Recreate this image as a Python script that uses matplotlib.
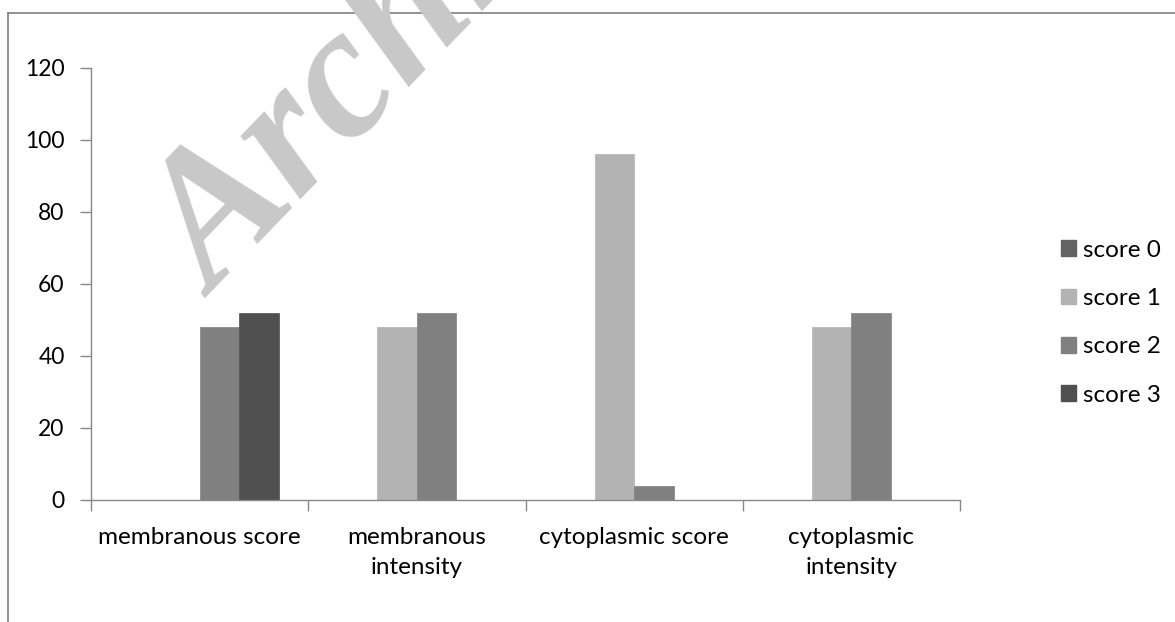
import numpy as np
import matplotlib
matplotlib.use("Agg")
import matplotlib.pyplot as plt
from matplotlib.lines import Line2D

categories = ["membranous score", "membranous\nintensity", "cytoplasmic score", "cytoplasmic\nintensity"]
series_names = ["score 0", "score 1", "score 2", "score 3"]
score0 = [0, 0, 0, 0]
score1 = [0, 48, 96, 48]
score2 = [48, 52, 4, 52]
score3 = [52, 0, 0, 0]
colors = ["#636363", "#b3b3b3", "#808080", "#505050"]
yticks = [0, 20, 40, 60, 80, 100, 120]

W, H = 1175, 622
fig = plt.figure(figsize=(W / 100, H / 100), dpi=100)
font = "Lato"
fs = 17.5
axc = "#878787"

ax = fig.add_axes([91 / W, 1 - 500 / H, (960 - 91) / W, (500 - 68) / H])
series = [score0, score1, score2, score3]
n = len(series)
x = np.arange(len(categories))
bw = 1 / (n + 1.5)
for i, (vals, c, name) in enumerate(zip(series, colors, series_names)):
    ax.bar(x + (i - (n - 1) / 2) * bw, vals, width=bw, color=c, label=name,
           edgecolor=c, linewidth=0.5, zorder=2)

ax.set_xlim(-0.5, len(categories) - 0.5)
ax.set_ylim(0, 120)
ax.set_yticks(yticks)
ax.set_yticklabels([str(v) for v in yticks], fontsize=16.5, family=font, color="#000000")
ax.set_xticks(x)
ax.set_xticklabels(categories, fontsize=fs, family=font, color="#000000", linespacing=1.55)
ax.set_xticks(np.arange(-0.5, len(categories)), minor=True)
ax.tick_params(axis="x", which="major", length=0, pad=19.5)
ax.tick_params(axis="x", which="minor", length=8, color=axc, width=1)
ax.tick_params(axis="y", length=8, color=axc, width=1, pad=11)
for s in ["top", "right"]:
    ax.spines[s].set_visible(False)
for s in ["left", "bottom"]:
    ax.spines[s].set_color(axc)
    ax.spines[s].set_linewidth(1)

handles = [plt.Rectangle((0, 0), 1, 1, color=c) for c in colors]
leg = fig.legend(handles, series_names, loc="upper left",
                 bbox_to_anchor=(1039 / W, 1 - 218 / H), frameon=False,
                 prop={"family": font, "size": fs}, handlelength=0.62, handleheight=0.62,
                 handletextpad=0.3, labelspacing=1.12)

# chart area border (partially visible)
fig.add_artist(Line2D([8 / W, 1], [1 - 13 / H, 1 - 13 / H], color="#7f7f7f", lw=1.2))
fig.add_artist(Line2D([8 / W, 8 / W], [0, 1 - 13 / H], color="#7f7f7f", lw=1.2))

# watermark
fig.text(215 / W, 1 - 298 / H, "Archive of SID", rotation=46, rotation_mode="anchor",
         ha="left", va="baseline", fontsize=135, family="Liberation Serif",
         weight="bold", style="italic", color="#c8c8c8", zorder=10)

fig.savefig("out.png", dpi=100)
